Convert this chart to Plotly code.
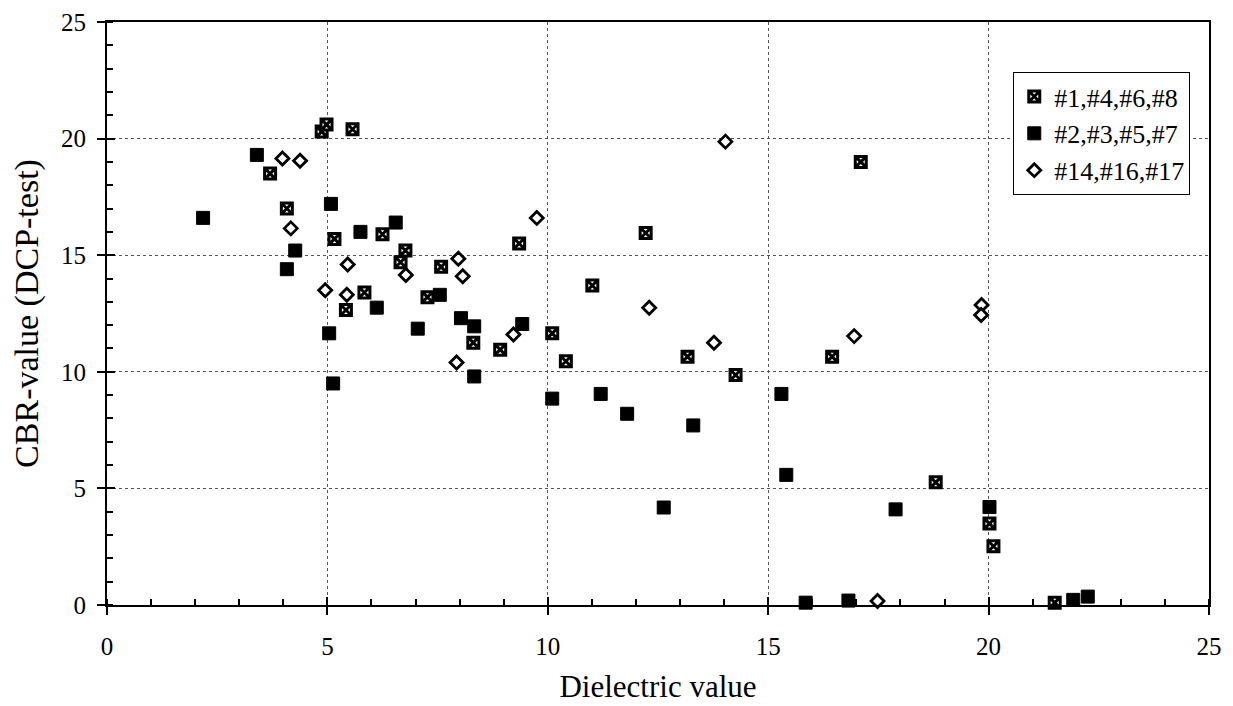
import plotly.graph_objects as go

# Series 1: #1,#4,#6,#8 (hatched squares)
s1_name = "#1,#4,#6,#8"
s1_x = [4.87, 4.98, 5.57, 3.70, 4.08, 5.16, 6.25, 6.77, 6.66, 5.84, 5.42, 7.58, 7.27,
        8.31, 8.92, 9.35, 10.10, 10.41, 11.01, 12.22, 13.17, 14.26, 16.45, 17.10,
        18.80, 20.02, 20.11, 21.50]
s1_y = [20.3, 20.6, 20.4, 18.5, 17.0, 15.7, 15.9, 15.2, 14.7, 13.4, 12.65, 14.5, 13.2,
        11.25, 10.95, 15.5, 11.65, 10.45, 13.7, 15.95, 10.65, 9.86, 10.65, 19.0,
        5.26, 3.49, 2.52, 0.10]

# Series 2: #2,#3,#5,#7 (filled squares)
s2_name = "#2,#3,#5,#7"
s2_x = [2.18, 3.40, 4.08, 4.27, 5.08, 5.04, 5.13, 5.75, 6.55, 6.12, 7.05, 7.55, 8.03,
        8.33, 8.33, 9.42, 10.10, 11.20, 11.80, 13.30, 12.63, 15.30, 15.41, 15.85,
        16.82, 17.89, 20.02, 21.92, 22.25]
s2_y = [16.6, 19.3, 14.4, 15.2, 17.2, 11.65, 9.5, 16.0, 16.4, 12.75, 11.85, 13.3, 12.3,
        11.95, 9.8, 12.05, 8.85, 9.05, 8.2, 7.7, 4.18, 9.05, 5.58, 0.10,
        0.19, 4.1, 4.2, 0.22, 0.36]

# Series 3: #14,#16,#17 (open diamonds)
s3_name = "#14,#16,#17"
s3_x = [3.98, 4.38, 4.17, 4.95, 5.46, 5.44, 6.78, 7.97, 8.07, 7.93, 9.22, 9.75, 12.30,
        13.77, 14.03, 16.95, 19.84, 19.83, 17.48]
s3_y = [19.15, 19.05, 16.15, 13.5, 14.6, 13.3, 14.15, 14.85, 14.1, 10.4, 11.6, 16.6, 12.75,
        11.25, 19.87, 11.53, 12.86, 12.44, 0.17]

x_title = "Dielectric value"
y_title = "CBR-value (DCP-test)"
x_ticks = [0, 5, 10, 15, 20, 25]
y_ticks = [0, 5, 10, 15, 20, 25]

FONT = "Liberation Serif, Times New Roman, serif"

fig = go.Figure()
fig.add_trace(go.Scatter(
    x=s1_x, y=s1_y, mode="markers", name=s1_name, cliponaxis=False,
    marker=dict(symbol="square-x", size=11, color="white",
                line=dict(color="black", width=3))))
fig.add_trace(go.Scatter(
    x=s2_x, y=s2_y, mode="markers", name=s2_name, cliponaxis=False,
    marker=dict(symbol="square", size=13, color="black",
                line=dict(color="black", width=1))))
fig.add_trace(go.Scatter(
    x=s3_x, y=s3_y, mode="markers", name=s3_name, cliponaxis=False,
    marker=dict(symbol="diamond", size=10, color="white",
                line=dict(color="black", width=2.8))))
# empty trace so the overlay axes (inside major ticks) are drawn
fig.add_trace(go.Scatter(x=[], y=[], xaxis="x2", yaxis="y2", showlegend=False,
                         hoverinfo="skip"))

axis_common = dict(
    range=[0, 25], dtick=5, tick0=0, showline=True, linecolor="black", linewidth=2,
    mirror=True, ticks="outside", ticklen=8, tickwidth=2, tickcolor="black",
    showgrid=True, gridcolor="#555", griddash="dot", gridwidth=1, zeroline=False,
    automargin=False,
    tickfont=dict(family=FONT, size=25, color="black"),
    minor=dict(ticks="inside", ticklen=6, tickwidth=2, tickcolor="black", dtick=1,
               showgrid=False),
)

fig.update_layout(
    width=1233, height=706,
    margin=dict(l=107, r=24, t=22, b=101),
    paper_bgcolor="white", plot_bgcolor="white",
    font=dict(family=FONT, color="black"),
    xaxis=dict(axis_common, tickvals=x_ticks, ticklabelstandoff=10,
               title=dict(text=x_title, font=dict(family=FONT, size=31), standoff=16)),
    yaxis=dict(axis_common, tickvals=y_ticks, ticklabelstandoff=6,
               title=dict(text=y_title, font=dict(family=FONT, size=34), standoff=12)),
    xaxis2=dict(overlaying="x", matches="x", anchor="y2", side="bottom", range=[0, 25],
                tickvals=x_ticks, ticks="inside", ticklen=8, tickwidth=2, tickcolor="black",
                showticklabels=False, showgrid=False, zeroline=False, showline=False,
                automargin=False),
    yaxis2=dict(overlaying="y", matches="y", anchor="x2", side="left", range=[0, 25],
                tickvals=y_ticks, ticks="inside", ticklen=8, tickwidth=2, tickcolor="black",
                showticklabels=False, showgrid=False, zeroline=False, showline=False,
                automargin=False),
    legend=dict(x=0.983, y=0.914, xanchor="right", yanchor="top",
                bgcolor="white", bordercolor="black", borderwidth=1,
                font=dict(family=FONT, size=26, color="black"),
                itemsizing="trace", tracegroupgap=4),
    showlegend=True,
)

fig.write_html("out.html")
